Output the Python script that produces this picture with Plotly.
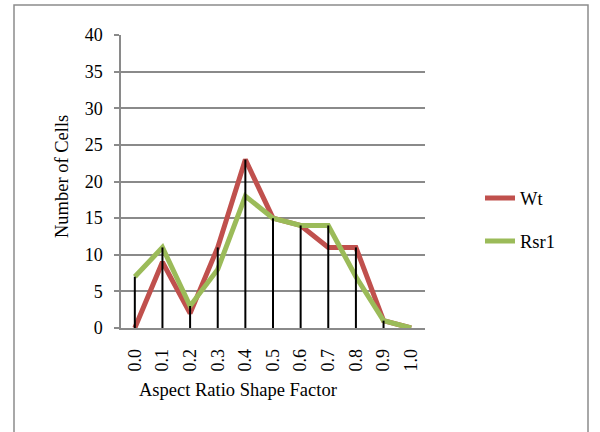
import plotly.graph_objects as go

# Cell counts per aspect-ratio bin
categories = ["0.0", "0.1", "0.2", "0.3", "0.4", "0.5", "0.6", "0.7", "0.8", "0.9", "1.0"]
wt = [0, 9, 2, 11, 23, 15, 14, 11, 11, 1, 0]
rsr1 = [7, 11, 3, 8, 18, 15, 14, 14, 7, 1, 0]
y_ticks = [0, 5, 10, 15, 20, 25, 30, 35, 40]

FONT = "'Liberation Serif', 'Times New Roman', 'DejaVu Serif', serif"
GRID = "#8a8a8a"

# Plot-area geometry in pixels, used to place paper-space decorations
W, H = 600, 432
L, R, T, B = 121, 175, 35, 104
PW, PH = W - L - R, H - T - B


def px_x(px):
    return (px - L) / PW


def px_y(py):
    return (H - B - py) / PH


fig = go.Figure()
fig.add_trace(go.Scatter(
    x=categories, y=wt, name="Wt", mode="lines",
    line=dict(color="#C0504D", width=5), legendgroup="a",
))
fig.add_trace(go.Scatter(
    x=categories, y=rsr1, name="Rsr1", mode="lines",
    line=dict(color="#9BBB59", width=5), legendgroup="b",
))

# Drop lines from the higher of the two series down to the axis
tops = [max(a, b) for a, b in zip(wt, rsr1)]
fig.add_trace(go.Scatter(
    x=categories, y=tops, mode="markers", showlegend=False,
    marker=dict(size=0.1, opacity=0), hoverinfo="skip",
    error_y=dict(type="data", symmetric=False, array=[0] * len(tops),
                 arrayminus=tops, width=0, color="black", thickness=2),
))

# Outer chart frame
fig.add_shape(type="rect", xref="paper", yref="paper",
              x0=px_x(14), x1=px_x(588), y0=px_y(445), y1=px_y(5),
              line=dict(color="#8c8c8c", width=1.5), layer="below")

fig.add_annotation(text="Aspect Ratio Shape Factor", xref="paper", yref="paper",
                   x=px_x(238), y=px_y(390), showarrow=False,
                   xanchor="center", yanchor="middle",
                   font=dict(family=FONT, size=18.5, color="black"))
fig.add_annotation(text="Number of Cells", xref="paper", yref="paper",
                   x=px_x(62), y=px_y(177), showarrow=False, textangle=-90,
                   xanchor="center", yanchor="middle",
                   font=dict(family=FONT, size=18.5, color="black"))

fig.update_layout(
    width=W, height=H,
    margin=dict(l=L, r=R, t=T, b=B),
    paper_bgcolor="white", plot_bgcolor="white",
    font=dict(family=FONT, size=18, color="black"),
    legend=dict(x=px_x(480), y=px_y(220), xanchor="left", yanchor="middle",
                traceorder="grouped", tracegroupgap=16,
                font=dict(family=FONT, size=18.5, color="black"),
                bgcolor="rgba(0,0,0,0)"),
    xaxis=dict(
        type="category", range=[-0.5, len(categories) - 0.5],
        showgrid=False, zeroline=False, showline=True,
        linecolor=GRID, linewidth=1.5, tickangle=-90, ticks="",
        ticklabelstandoff=12, fixedrange=True,
    ),
    yaxis=dict(
        range=[0, 40], tickvals=y_ticks, showgrid=True, gridcolor=GRID,
        gridwidth=1.5, zeroline=False, showline=True, linecolor=GRID,
        linewidth=1.5, ticks="outside", ticklen=5, tickcolor=GRID,
        tickwidth=1.5, ticklabelstandoff=8, fixedrange=True,
    ),
    showlegend=True,
)

fig.write_html("out.html")
